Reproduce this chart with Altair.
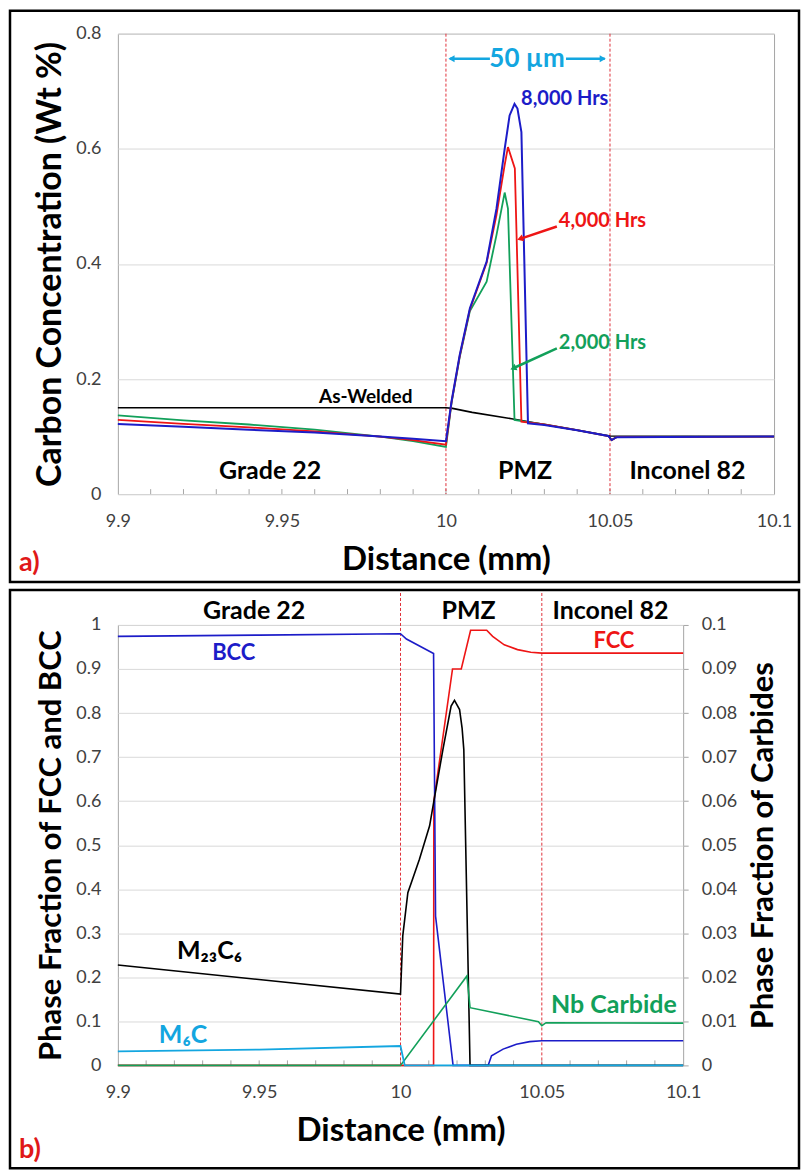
import altair as alt
import pandas as pd

FONT = "Lato"
GRAY = "#a6a6a6"
LABEL_GRAY = "#404040"

# ---------------- Panel a : carbon concentration (wt %) ----------------
aw_x = [9.9, 10.0, 10.002, 10.008, 10.02, 10.03, 10.04, 10.05, 10.1]
aw_c = [0.150, 0.150, 0.149, 0.142, 0.131, 0.121, 0.111, 0.101, 0.100]

h2k_x = [9.9, 9.92, 9.94, 9.96, 9.98, 9.99, 10.0, 10.0017, 10.0042, 10.0073, 10.0124,
         10.0154, 10.0179, 10.0189, 10.0209, 10.025, 10.03, 10.04, 10.0495, 10.0505, 10.052, 10.1]
h2k_c = [0.137, 0.128, 0.121, 0.112, 0.100, 0.092, 0.082, 0.158, 0.238, 0.318, 0.369,
         0.450, 0.524, 0.496, 0.129, 0.125, 0.121, 0.111, 0.101, 0.094, 0.099, 0.100]

h4k_x = [9.9, 9.92, 9.94, 9.96, 9.98, 9.99, 10.0, 10.0017, 10.0042, 10.0073, 10.0124,
         10.0154, 10.0179, 10.0189, 10.021, 10.023, 10.03, 10.04, 10.0495, 10.0505, 10.052, 10.1]
h4k_c = [0.129, 0.122, 0.116, 0.109, 0.100, 0.094, 0.086, 0.160, 0.240, 0.321, 0.402,
         0.485, 0.572, 0.603, 0.566, 0.126, 0.121, 0.111, 0.101, 0.094, 0.099, 0.100]

h8k_x = [9.9, 9.92, 9.94, 9.96, 9.98, 9.99, 10.0, 10.0017, 10.0042, 10.0073, 10.0124,
         10.0154, 10.0179, 10.0194, 10.0209, 10.0218, 10.023, 10.025, 10.03, 10.04,
         10.0495, 10.0505, 10.052, 10.1]
h8k_c = [0.122, 0.117, 0.112, 0.107, 0.100, 0.096, 0.092, 0.161, 0.242, 0.323, 0.404,
         0.496, 0.600, 0.658, 0.678, 0.670, 0.629, 0.123, 0.120, 0.111,
         0.101, 0.094, 0.099, 0.100]

# ---------------- Panel b : phase fractions ----------------
bcc_x = [9.9, 9.95, 10.0, 10.0021, 10.0117, 10.0124, 10.0186, 10.031, 10.0322, 10.0363,
         10.041, 10.0457, 10.05, 10.1]
bcc_f = [0.974, 0.977, 0.980, 0.968, 0.935, 0.339, 0.0, 0.0, 0.022, 0.037,
         0.048, 0.054, 0.056, 0.056]

fcc_x = [9.9, 10.0117, 10.0118, 10.0184, 10.0215, 10.0248, 10.0305, 10.0326, 10.0367,
         10.0414, 10.0461, 10.05, 10.1]
fcc_f = [0.0, 0.0, 0.60, 0.90, 0.90, 0.988, 0.988, 0.974, 0.955,
         0.944, 0.938, 0.936, 0.936]

m23_x = [9.9, 10.0, 10.0008, 10.0026, 10.0067, 10.0103, 10.0117, 10.015, 10.0179, 10.0191,
         10.0209, 10.0218, 10.0224, 10.0246, 10.1]
m23_f = [0.0228, 0.0162, 0.0294, 0.0392, 0.0468, 0.0544, 0.0596, 0.0717, 0.0816, 0.0829,
         0.0808, 0.0765, 0.0717, 0.0, 0.0]

m6c_x = [9.9, 9.95, 10.0, 10.0015, 10.1]
m6c_f = [0.0032, 0.0036, 0.0044, 0.0, 0.0]

nb_x = [9.9, 10.0, 10.0235, 10.0246, 10.0488, 10.05, 10.0515, 10.1]
nb_f = [0.0, 0.0, 0.0203, 0.0131, 0.0099, 0.0090, 0.0097, 0.0096]

# axis tick / label values
x_labels = [9.9, 9.95, 10.0, 10.05, 10.1]
x_minor = [9.91, 9.92, 9.93, 9.94, 9.95, 9.96, 9.97, 9.98, 9.99, 10.0,
           10.01, 10.02, 10.03, 10.04, 10.05, 10.06, 10.07, 10.08, 10.09]
zone_bounds = [10.0, 10.05]
ya_ticks = [0, 0.2, 0.4, 0.6, 0.8]
yl_ticks = [0, 0.1, 0.2, 0.3, 0.4, 0.5, 0.6, 0.7, 0.8, 0.9, 1]
yr_ticks = [0, 0.01, 0.02, 0.03, 0.04, 0.05, 0.06, 0.07, 0.08, 0.09, 0.1]

W_A, H_A = 657, 461
W_B, H_B = 566, 441

BLUE = "#1c1cc8"
RED = "#ee1515"
GREEN = "#12a05a"
CYAN = "#13a6e0"
DASH = "#e0303a"


def x_enc():
    return alt.X(
        "x:Q",
        scale=alt.Scale(domain=[9.9, 10.1], nice=False, zero=False),
        axis=alt.Axis(values=x_labels, format="~g", title="Distance (mm)", grid=False,
                      ticks=False, domain=False, labelFlush=False, labelFont=FONT,
                      labelFontSize=18, labelColor=LABEL_GRAY, labelPadding=18,
                      titleFont=FONT, titleFontSize=33, titleFontWeight="bold",
                      titleColor="black", titlePadding=13),
    )


def y_enc(domain, values, title, orient="left", grid=True, ticks=False, tsize=31):
    extra = {}
    if orient == "right":
        extra = dict(titleAngle=270, titleBaseline="top")
    return alt.Y(
        "y:Q",
        scale=alt.Scale(domain=domain, nice=False, zero=False),
        axis=alt.Axis(values=values, format="~g", title=title, orient=orient, grid=grid,
                      gridColor="#d9d9d9", ticks=ticks, tickSize=5, tickColor=GRAY,
                      domain=False, labelFlush=False, labelFont=FONT, labelFontSize=18,
                      labelColor=LABEL_GRAY, labelPadding=17 if not ticks else 13,
                      titleFont=FONT, titleFontSize=tsize, titleFontWeight="bold",
                      titleColor="black", titlePadding=8 if orient == "left" else 12,
                      **extra),
    )


def line(xs, ys, color, w, X, Y):
    d = pd.DataFrame({"x": xs, "y": ys, "i": list(range(len(xs)))})
    return alt.Chart(d).mark_line(color=color, strokeWidth=w).encode(x=X, y=Y, order="i:Q")


def label(x, y, text, X, Y, color="black", size=25, align="center", baseline="middle"):
    d = pd.DataFrame({"x": [x], "y": [y]})
    return alt.Chart(d).mark_text(text=text, font=FONT, fontWeight="bold", fontSize=size,
                                  color=color, align=align, baseline=baseline).encode(x=X, y=Y)


def seg(x1, y1, x2, y2, color, w, X, Y):
    d = pd.DataFrame({"x": [x1], "y": [y1], "x2": [x2], "y2": [y2]})
    return alt.Chart(d).mark_rule(color=color, strokeWidth=w).encode(
        x=X, y=Y, x2=alt.X2("x2:Q"), y2=alt.Y2("y2:Q"))


def head(x, y, color, X, Y, shape="triangle-up", angle=0, size=45):
    d = pd.DataFrame({"x": [x], "y": [y]})
    return alt.Chart(d).mark_point(shape=shape, angle=angle, filled=True, opacity=1,
                                   color=color, size=size).encode(x=X, y=Y)


def frame(x1, x2, y1, y2):
    return alt.Chart(pd.DataFrame({"k": [0]})).mark_rect(
        filled=False, stroke="black", strokeWidth=2.5).encode(
        x=alt.value(x1), x2=alt.value(x2), y=alt.value(y1), y2=alt.value(y2))


def corner(text, px, py):
    return alt.Chart(pd.DataFrame({"k": [0]})).mark_text(
        text=text, font=FONT, fontWeight="bold", fontSize=27, color="#e01818",
        align="left", baseline="middle").encode(x=alt.value(px), y=alt.value(py))


def minor_ticks(X, h):
    return alt.Chart(pd.DataFrame({"x": x_minor})).mark_rule(color=GRAY, strokeWidth=1).encode(
        x=X, y=alt.value(h - 5), y2=alt.value(h))


def zone_lines(X, top, h):
    return alt.Chart(pd.DataFrame({"x": zone_bounds})).mark_rule(
        color=DASH, strokeWidth=1, strokeDash=[3, 2]).encode(x=X, y=alt.value(top), y2=alt.value(h))


# ---------------- build panel a ----------------
XA = x_enc()
YA = y_enc([0, 0.8], ya_ticks, "Carbon Concentration (Wt %)", tsize=34)

panel_a = alt.layer(
    frame(-108, 682, -23, 549),
    minor_ticks(XA, H_A),
    zone_lines(XA, 0, H_A),
    line(aw_x, aw_c, "black", 1.6, XA, YA),
    line(h2k_x, h2k_c, GREEN, 1.8, XA, YA),
    line(h4k_x, h4k_c, RED, 1.8, XA, YA),
    line(h8k_x, h8k_c, BLUE, 2.0, XA, YA),
    label(9.9898, 0.158, "As-Welded", XA, YA, size=19, align="right", baseline="alphabetic"),
    label(10.0229, 0.687, "8,000 Hrs", XA, YA, color=BLUE, size=20, align="left"),
    label(10.0344, 0.474, "4,000 Hrs", XA, YA, color=RED, size=20, align="left"),
    label(10.0344, 0.262, "2,000 Hrs", XA, YA, color=GREEN, size=20, align="left"),
    seg(10.0338, 0.465, 10.0226, 0.4435, RED, 2.5, XA, YA),
    head(10.0226, 0.4435, RED, XA, YA, angle=251, size=50),
    seg(10.0338, 0.2534, 10.0205, 0.2187, GREEN, 2.5, XA, YA),
    head(10.0205, 0.2187, GREEN, XA, YA, angle=246, size=50),
    seg(10.0012, 0.7566, 10.0134, 0.7566, CYAN, 2.5, XA, YA),
    seg(10.0366, 0.7566, 10.0484, 0.7566, CYAN, 2.5, XA, YA),
    head(10.0017, 0.7566, CYAN, XA, YA, shape="triangle-left", size=50),
    head(10.0478, 0.7566, CYAN, XA, YA, shape="triangle-right", size=50),
    label(10.0247, 0.7566, "50 µm", XA, YA, color=CYAN, size=26),
    label(9.9464, 0.0399, "Grade 22", XA, YA, size=25),
    label(10.0241, 0.0399, "PMZ", XA, YA, size=25),
    label(10.0736, 0.0399, "Inconel 82", XA, YA, size=25),
    corner("a)", -99, 530),
).properties(width=W_A, height=H_A)

# ---------------- build panel b ----------------
XB = x_enc()
YL = y_enc([0, 1], yl_ticks, "Phase Fraction of FCC and BCC")
YR = y_enc([0, 0.1], yr_ticks, "Phase Fraction of Carbides", orient="right", grid=False, ticks=True)

left_group = alt.layer(
    frame(-108, 682, -35, 544),
    minor_ticks(XB, H_B),
    zone_lines(XB, -32, H_B),
    line(fcc_x, fcc_f, RED, 1.6, XB, YL),
    line(bcc_x, bcc_f, BLUE, 1.6, XB, YL),
    label(9.9482, 1.0317, "Grade 22", XB, YL, size=25),
    label(10.0241, 1.0317, "PMZ", XB, YL, size=25),
    label(10.0743, 1.0317, "Inconel 82", XB, YL, size=25),
    label(9.941, 0.9365, "BCC", XB, YL, color=BLUE, size=22),
    label(10.0755, 0.9637, "FCC", XB, YL, color=RED, size=22),
    label(9.9209, 0.2426, "M₂₃C₆", XB, YL, size=25, align="left", baseline="alphabetic"),
    label(9.9145, 0.051, "M₆C", XB, YL, color=CYAN, size=25, align="left", baseline="alphabetic"),
    label(10.0755, 0.136, "Nb Carbide", XB, YL, color=GREEN, size=25),
    corner("b)", -99, 526),
)

right_group = alt.layer(
    line(m23_x, m23_f, "black", 1.6, XB, YR),
    line(nb_x, nb_f, GREEN, 1.6, XB, YR),
    line(m6c_x, m6c_f, CYAN, 1.8, XB, YR),
)

panel_b = alt.layer(left_group, right_group).resolve_scale(y="independent").properties(
    width=W_B, height=H_B)

chart = alt.vconcat(panel_a, panel_b, spacing=4).properties(
    padding=0).configure(font=FONT).configure_view(stroke=GRAY, strokeWidth=1)

chart.save("out.html", embed_options={"renderer": "svg", "actions": False})
